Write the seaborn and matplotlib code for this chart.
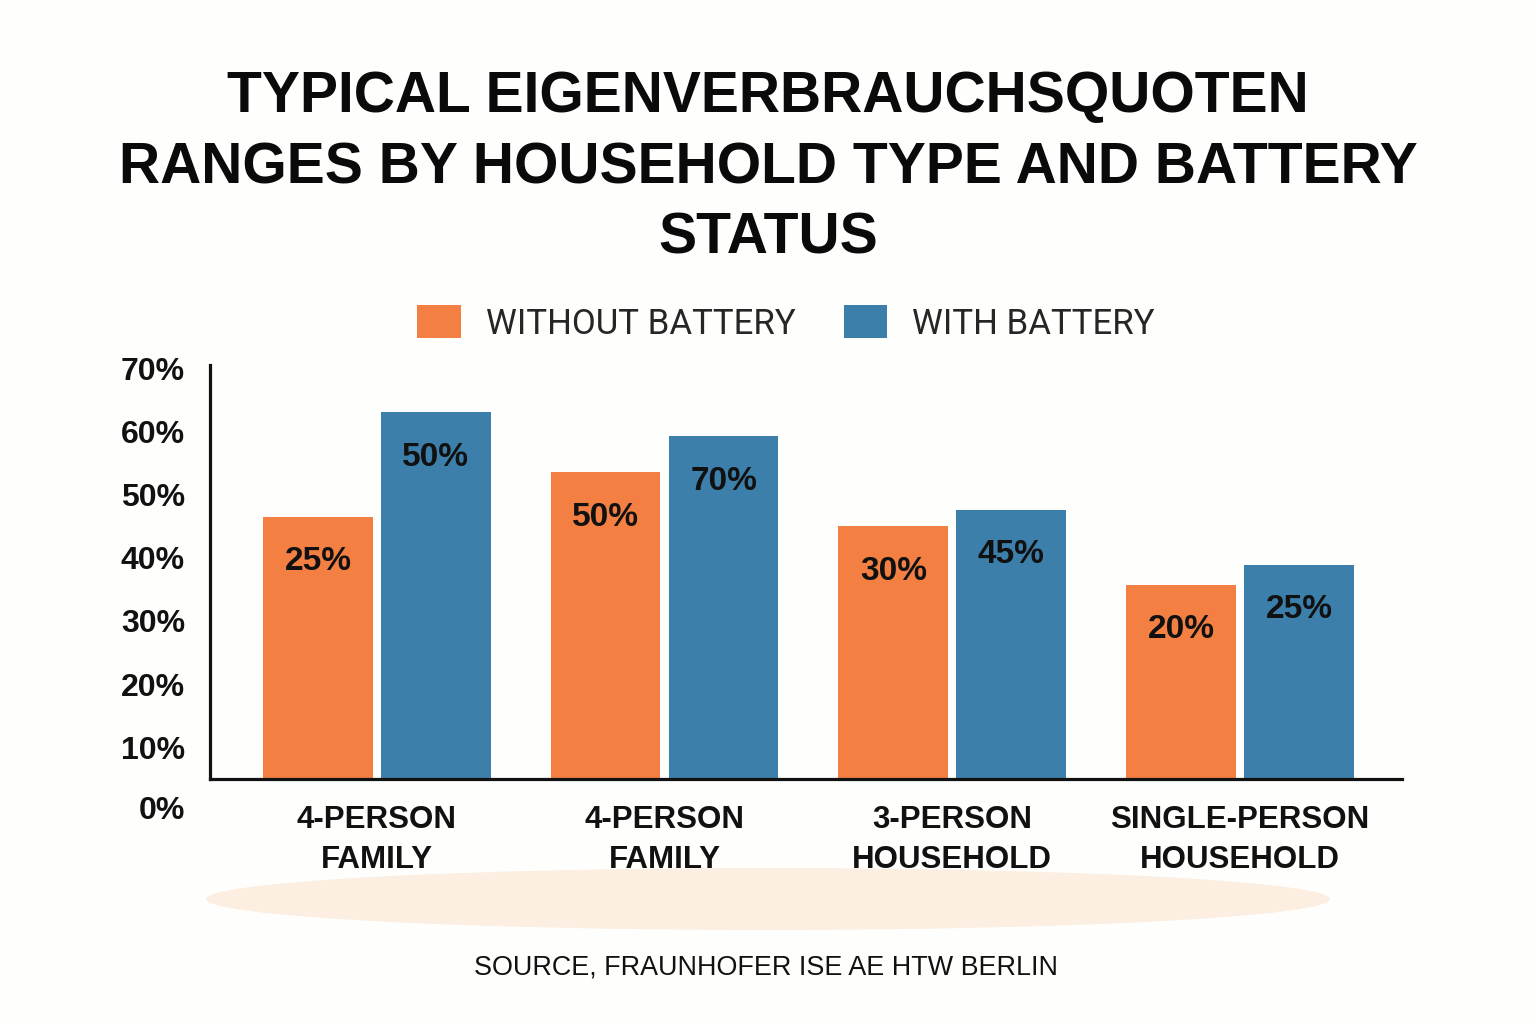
import matplotlib
matplotlib.use("Agg")
import matplotlib.pyplot as plt
import matplotlib.transforms as mtransforms
from matplotlib.patches import Ellipse, Patch
import seaborn as sns
import pandas as pd

# ---------------- data ----------------
category_keys = ["fam4_a", "fam4_b", "hh3", "hh1"]
category_labels = ["4-PERSON\nFAMILY", "4-PERSON\nFAMILY", "3-PERSON\nHOUSEHOLD", "SINGLE-PERSON\nHOUSEHOLD"]
series_names = ["WITHOUT BATTERY", "WITH BATTERY"]
without_battery = [46.5, 53.5, 45.0, 35.7]
with_battery = [63.0, 59.2, 47.6, 38.9]
without_labels = ["25%", "50%", "30%", "20%"]
with_labels = ["50%", "70%", "45%", "25%"]
ytick_values = [10, 20, 30, 40, 50, 60, 70]
ytick_labels = ["10%", "20%", "30%", "40%", "50%", "60%", "70%"]
zero_label = "0%"
title_text = "TYPICAL EIGENVERBRAUCHSQUOTEN\nRANGES BY HOUSEHOLD TYPE AND BATTERY\nSTATUS"
source_text = "SOURCE, FRAUNHOFER ISE AE HTW BERLIN"

ORANGE = "#F47F43"
BLUE = "#3D7FAB"
BG = "#FEFEFC"

df = pd.DataFrame({
    "category": category_keys * 2,
    "series": [series_names[0]] * 4 + [series_names[1]] * 4,
    "value": without_battery + with_battery,
})

sns.set_style("white")
plt.rcParams["font.family"] = ["Liberation Sans", "DejaVu Sans"]

fig = plt.figure(figsize=(15.36, 10.24), dpi=100, facecolor=BG)
ax = fig.add_axes([210 / 1536, 1 - 779 / 1024, (1402 - 210) / 1536, (779 - 365) / 1024])
ax.set_facecolor("none")

# background ellipse
ell = Ellipse((768 / 1536, 1 - 899 / 1024), 1124 / 1536, 62 / 1024,
              transform=fig.transFigure, facecolor="#FCEEE1", edgecolor="none", zorder=0)
fig.add_artist(ell)

sns.barplot(data=df, x="category", y="value", hue="series", order=category_keys,
            hue_order=series_names, palette={series_names[0]: ORANGE, series_names[1]: BLUE},
            width=0.82, gap=0.07, legend=False, ax=ax, saturation=1,
            edgecolor="none", linewidth=0)

ax.set_xlim(-0.58, 3.563)
ax.set_ylim(5, 70.5)
ax.set_xlabel("")
ax.set_ylabel("")

for s in ["top", "right"]:
    ax.spines[s].set_visible(False)
for s in ["left", "bottom"]:
    ax.spines[s].set_linewidth(2.3)
    ax.spines[s].set_color("#111111")

ax.set_yticks(ytick_values)
ax.set_yticklabels(ytick_labels, fontsize=23, fontweight="bold", color="#111111")
ax.set_xticks(range(len(category_keys)))
ax.set_xticklabels(category_labels, fontsize=22.5, fontweight="bold", color="#111111", linespacing=1.4)
ax.tick_params(axis="y", length=0, pad=18)
ax.tick_params(axis="x", length=0, pad=19)

# 0% label below baseline
trans = mtransforms.blended_transform_factory(ax.transAxes, ax.transData)
ax.annotate(zero_label, xy=(0, 0), xycoords=trans, xytext=(-25, 0), textcoords="offset pixels",
            ha="right", va="center", fontsize=23, fontweight="bold", color="#111111",
            annotation_clip=False)

# value labels inside bars
for cont, labels in zip(ax.containers, [without_labels, with_labels]):
    for bar, lab in zip(cont, labels):
        x = bar.get_x() + bar.get_width() / 2
        y = bar.get_y() + bar.get_height()
        ax.annotate(lab, xy=(x, y), xytext=(0, -45), textcoords="offset pixels",
                    ha="center", va="center", fontsize=24, fontweight="bold", color="#111111")

# legend
handles = [Patch(facecolor=ORANGE, edgecolor="none"), Patch(facecolor=BLUE, edgecolor="none")]
fig.legend(handles, series_names, loc="center", bbox_to_anchor=(786 / 1536, 1 - 323 / 1024),
           ncol=2, frameon=False, prop={"family": "Roboto", "size": 25},
           handlelength=1.24, handleheight=1.07, handletextpad=0.72, columnspacing=1.4)

# title
fig.text(0.5, 1 - 168 / 1024, title_text, ha="center", va="center", fontsize=41,
         fontweight="bold", color="#0A0A0A", linespacing=1.4)

# source
fig.text(766 / 1536, 1 - 967 / 1024, source_text, ha="center", va="center", fontsize=19.4,
         color="#111111")

fig.savefig("out.png", dpi=100, facecolor=BG)
